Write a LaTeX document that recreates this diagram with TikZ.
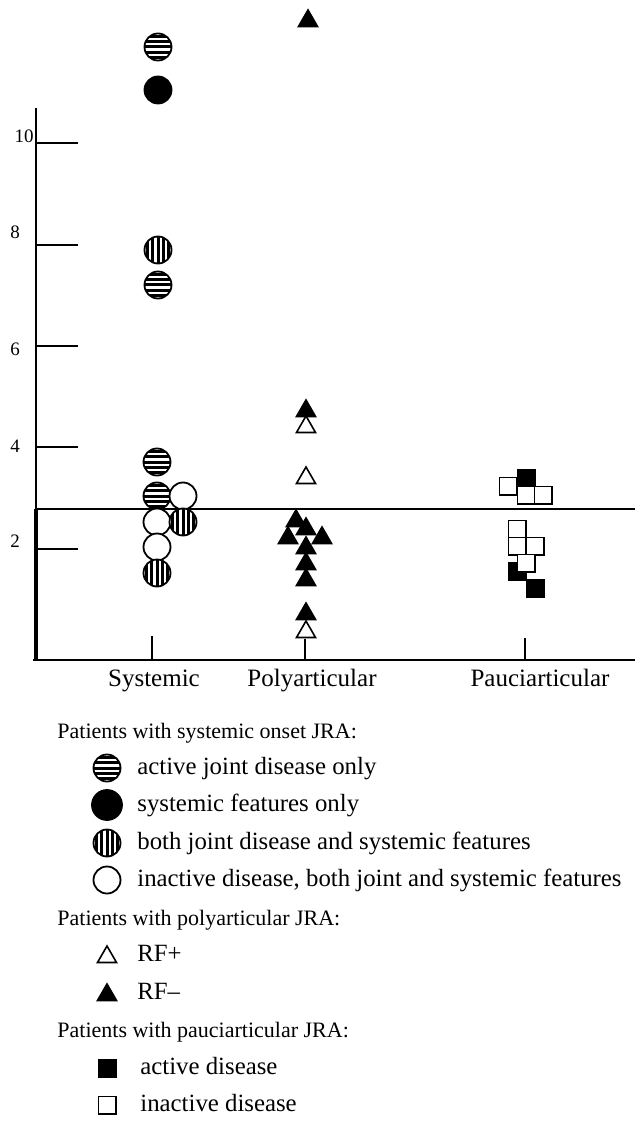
\documentclass[tikz,border=0pt]{standalone}
\usepackage{fontspec}
\setmainfont{Liberation Serif}
\usetikzlibrary{shapes.geometric,positioning}

\begin{document}
\begin{tikzpicture}[
    x=0.5pt, y=-0.5pt,
    dot/.style={circle, draw, line width=0.9pt, minimum size=13.5pt, inner sep=0pt},
    fcirc/.style={dot, fill=black},
    ocirc/.style={dot, fill=white},
    hcirc/.style={dot, fill=white, path picture={\foreach \k in {-5.4,-2.7,0,2.7,5.4} \draw[line width=1.5pt] ([yshift=\k pt]path picture bounding box.west) -- ([yshift=\k pt]path picture bounding box.east);}},
    vcirc/.style={dot, fill=white, path picture={\foreach \k in {-5.4,-2.7,0,2.7,5.4} \draw[line width=1.5pt] ([xshift=\k pt]path picture bounding box.north) -- ([xshift=\k pt]path picture bounding box.south);}},
    tri/.style={regular polygon, regular polygon sides=3, draw, line width=0.8pt, minimum size=11pt, inner sep=0pt},
    ftri/.style={tri, fill=black},
    otri/.style={tri, fill=white},
    sq/.style={rectangle, draw, line width=0.9pt, minimum size=8.6pt, inner sep=0pt},
    fsq/.style={sq, fill=black},
    osq/.style={sq, fill=white},
    axis/.style={line width=0.8pt},
    tickline/.style={line width=0.6pt},
    ticklabel/.style={font=\fontsize{9.5}{11}\selectfont},
    catlabel/.style={font=\fontsize{12.5}{15}\selectfont, anchor=base},
    leghead/.style={font=\fontsize{11}{13}\selectfont, anchor=base west, inner sep=0pt},
    legtext/.style={font=\fontsize{12.4}{14}\selectfont, anchor=base west, inner sep=0pt}
]
\useasboundingbox (0,0) rectangle (635,1122);

% Axes
\coordinate (ytop) at (36,108);
\coordinate (orig) at (36,660);
\coordinate (xend) at (635,660);
\coordinate (refL) at (36,509);
\coordinate (refR) at (635,509);
\draw[axis] (ytop) -- (orig);
\draw[line width=1.6pt] (refL) -- (orig);
\draw[line width=1pt] ([xshift=-1.5pt]orig) -- (xend);
\draw[line width=0.7pt] (refL) -- (refR);

% Value ticks
\draw[tickline] (36,143) -- (78,143);
\draw[tickline] (36,245) -- (78,245);
\draw[tickline] (36,346) -- (78,346);
\draw[tickline] (36,447) -- (78,447);
\draw[tickline] (36,549) -- (78,549);
\node[ticklabel] (t10) at (24,136) {10};
\node[ticklabel] (t8) at (15,232) {8};
\node[ticklabel] (t6) at (15,349) {6};
\node[ticklabel] (t4) at (15,446) {4};
\node[ticklabel] (t2) at (15,541) {2};

% Group ticks and names
\draw[tickline] (152,636) -- (152,660);
\draw[tickline] (305,639) -- (305,660);
\draw[tickline] (525,638) -- (525,660);
\node[catlabel] (sys) at (154,686) {Systemic};
\node[catlabel] (poly) at (312,686) {Polyarticular};
\node[catlabel] (pauci) at (540,686) {Pauciarticular};

% Systemic onset
\node[hcirc] (s1) at (158,47) {};
\node[fcirc] (s2) at (158,90) {};
\node[vcirc] (s3) at (158,250) {};
\node[hcirc] (s4) at (158,285) {};
\node[hcirc] (s5) at (157,462) {};
\node[hcirc] (s6) at (157,496) {};
\node[ocirc] (s7) at (183,496) {};
\node[ocirc] (s8) at (157,522) {};
\node[vcirc] (s9) at (183,522) {};
\node[ocirc] (s10) at (157,547) {};
\node[vcirc] (s11) at (157,573) {};

% Polyarticular
\node[ftri] (p1) at (308,21) {};
\node[ftri] (p2) at (306,411) {};
\node[otri] (p3) at (306,427) {};
\node[otri] (p4) at (306,478) {};
\node[ftri] (p5) at (296,521) {};
\node[ftri] (p6) at (306,529) {};
\node[ftri] (p7) at (288,538) {};
\node[ftri] (p8) at (322,538) {};
\node[ftri] (p9) at (306,548) {};
\node[ftri] (p10) at (306,564) {};
\node[ftri] (p11) at (306,580) {};
\node[ftri] (p12) at (306,614) {};
\node[otri] (p13) at (306,632) {};

% Pauciarticular
\node[fsq] (q1) at (526,478) {};
\node[osq] (q2) at (508,486) {};
\node[osq] (q3) at (526,495) {};
\node[osq] (q4) at (543,495) {};
\node[osq] (q5) at (517,529) {};
\node[osq] (q6) at (517,546) {};
\node[osq] (q7) at (535,546) {};
\node[fsq] (q8) at (517,571) {};
\node[fsq] (q9) at (535,588) {};
\node[osq] (q10) at (526,563) {};

% Legend
\node[leghead] (h1) at (57,738) {Patients with systemic onset JRA:};
\node[hcirc] (l1) at (107,768) {};
\node[legtext] (l1t) at (137,774) {active joint disease only};
\node[fcirc, minimum size=15pt] (l2) at (107,805) {};
\node[legtext] (l2t) at (137,811) {systemic features only};
\node[vcirc] (l3) at (107,843) {};
\node[legtext] (l3t) at (137,849) {both joint disease and systemic features};
\node[ocirc] (l4) at (107,880) {};
\node[legtext] (l4t) at (137,886) {inactive disease, both joint and systemic features};
\node[leghead] (h2) at (57,925) {Patients with polyarticular JRA:};
\node[otri] (l5) at (107,957) {};
\node[legtext] (l5t) at (137,961) {RF+};
\node[ftri] (l6) at (107,995) {};
\node[legtext] (l6t) at (137,999) {RF–};
\node[leghead] (h3) at (57,1037) {Patients with pauciarticular JRA:};
\node[fsq] (l7) at (107,1068) {};
\node[legtext] (l7t) at (140,1074) {active disease};
\node[osq] (l8) at (107,1105) {};
\node[legtext] (l8t) at (140,1111) {inactive disease};

\end{tikzpicture}
\end{document}
